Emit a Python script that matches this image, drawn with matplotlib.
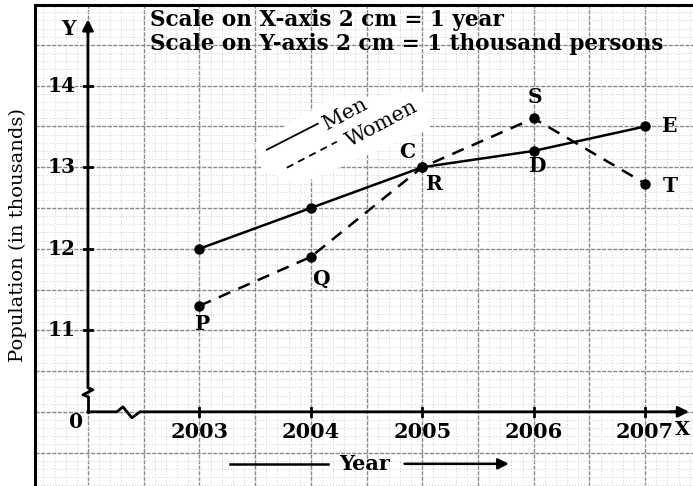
import matplotlib
matplotlib.use("Agg")
import matplotlib.pyplot as plt
import numpy as np
from matplotlib.ticker import MultipleLocator
from matplotlib.patches import Polygon

years = [2003, 2004, 2005, 2006, 2007]
men = [12.0, 12.5, 13.0, 13.2, 13.5]
women = [11.3, 11.9, 13.0, 13.6, 12.8]
men_labels = ["", "", "C", "D", "E"]
women_labels = ["P", "Q", "R", "S", "T"]
y_ticks = [11, 12, 13, 14]
x_title = "Year"
y_title = "Population (in thousands)"
scale_lines = ["Scale on X-axis 2 cm = 1 year",
               "Scale on Y-axis 2 cm = 1 thousand persons"]

FONT = "DejaVu Serif"
W, H = 693, 486
fig = plt.figure(figsize=(W / 100, H / 100), dpi=100)
ax = fig.add_axes([35 / W, 0, 1 - 35 / W, 1 - 5 / H])

x0, y0 = 2002, 10  # origin (broken axis)
ax.set_xlim(2001.525, 2007.43)
ax.set_ylim(9.09, 14.99)

# graph-paper grid
ax.xaxis.set_major_locator(MultipleLocator(0.5))
ax.yaxis.set_major_locator(MultipleLocator(0.5))
ax.xaxis.set_minor_locator(MultipleLocator(0.1))
ax.yaxis.set_minor_locator(MultipleLocator(0.1))
ax.grid(which="major", color="#8a8a8a", lw=1.0, ls=(0, (3, 1)))
ax.grid(which="minor", color="#cfcfcf", lw=0.7, ls=(0, (1, 2)))
ax.tick_params(which="both", length=0, labelleft=False, labelbottom=False)
ax.set_axisbelow(True)
for s in ["right", "bottom"]:
    ax.spines[s].set_visible(False)
for s in ["left", "top"]:
    ax.spines[s].set_linewidth(2.2)

dx = 1 / 111.5  # one pixel in x
dy = 1 / 81.5   # one pixel in y

def px(x, y):
    return (x0 + (x - 88) * dx, y0 + (412 - y) * dy)

# blank area behind the legend
ax.add_patch(Polygon([px(255, 145), px(330, 100), px(425, 92), px(430, 128),
                      px(300, 185), px(262, 170)], closed=True,
                     facecolor="white", edgecolor="none", zorder=1))

# axes with breaks
yax_x = [x0, x0, x0 + 5 * dx, x0 - 5 * dx, x0]
yax_y = [14.7, y0 + 24 * dy, y0 + 22 * dy, y0 + 17 * dy, y0 + 15 * dy]
ax.plot(yax_x, yax_y, color="black", lw=2, solid_capstyle="butt")
ax.plot([x0, x0], [y0 + 15 * dy, y0], color="black", lw=2)
ax.annotate("", xy=(x0, 14.85), xytext=(x0, 14.6),
            arrowprops=dict(arrowstyle="-|>", color="black", lw=2, mutation_scale=16))
xax_x = [x0, x0 + 29 * dx, x0 + 35 * dx, x0 + 44 * dx, x0 + 52 * dx, 2007.3]
xax_y = [y0, y0, y0 + 5 * dy, y0 - 6 * dy, y0, y0]
ax.plot(xax_x, xax_y, color="black", lw=2)
ax.annotate("", xy=(2007.42, y0), xytext=(2007.2, y0),
            arrowprops=dict(arrowstyle="-|>", color="black", lw=2, mutation_scale=16))

# ticks
for yt in y_ticks:
    ax.plot([x0 - 4 * dx, x0 + 4 * dx], [yt, yt], color="black", lw=2)
    ax.text(x0 - 12 * dx, yt, str(yt), ha="right", va="center",
            fontsize=14.5, family=FONT, fontweight="bold")
for xt in years:
    ax.plot([xt, xt], [y0 - 4 * dy, y0 + 4 * dy], color="black", lw=2)
    ax.text(xt, y0 - 20 * dy, str(xt), ha="center", va="center",
            fontsize=15, family=FONT, fontweight="bold")
ax.text(x0 - 12 * dx, y0 - 10 * dy, "0", ha="center", va="center",
        fontsize=14.5, family=FONT, fontweight="bold")
ax.text(x0 - 20 * dx, 14.7, "Y", ha="center", va="center",
        fontsize=14.5, family=FONT, fontweight="bold")
ax.text(*px(691, 430), "X", ha="right", va="center",
        fontsize=14, family=FONT, fontweight="bold")

# data
ax.plot(years, men, color="black", lw=1.8, marker="o", ms=6.5, zorder=3)
ax.plot(years, women, color="black", lw=1.8, ls=(0, (5, 3.5)), marker="o",
        ms=6.5, zorder=3)

offs_m = {"C": (-11, 11), "D": (3, -11), "E": (18, 0)}
offs_w = {"P": (2, -13), "Q": (7, -16), "R": (9, -12), "S": (1, 15), "T": (18, -2)}
for x, y, l in zip(years, men, men_labels):
    if l:
        ax.annotate(l, (x, y), xytext=offs_m[l], textcoords="offset points",
                    ha="center", va="center", fontsize=14.5, family=FONT,
                    fontweight="bold")
for x, y, l in zip(years, women, women_labels):
    ax.annotate(l, (x, y), xytext=offs_w[l], textcoords="offset points",
                ha="center", va="center", fontsize=14.5, family=FONT,
                fontweight="bold")

# legend (rotated)
ax.plot(*zip(px(267, 150), px(318, 124)), color="black", lw=1.3, zorder=2)
ax.plot(*zip(px(287, 168), px(337, 142)), color="black", lw=1.3,
        ls=(0, (4, 3)), zorder=2)
ax.text(*px(345, 114), "Men", rotation=28, ha="center", va="center",
        fontsize=15, family=FONT, rotation_mode="anchor", zorder=2)
ax.text(*px(382, 124), "Women", rotation=28, ha="center", va="center",
        fontsize=15, family=FONT, rotation_mode="anchor", zorder=2)

# scale text
for i, s in enumerate(scale_lines):
    fig.text(150 / W, 1 - (20 + 24 * i) / H, s, ha="left", va="center",
             fontsize=15.5, family=FONT, fontweight="bold")

# axis titles
fig.text(18 / W, 1 - 235 / H, y_title, rotation=90, ha="center", va="center",
         fontsize=14, family=FONT)
ax.text(*px(365, 464), x_title, ha="center", va="center", fontsize=15,
        family=FONT, fontweight="bold")
ax.plot(*zip(px(230, 464), px(328, 464)), color="black", lw=1.8)
ax.annotate("", xy=px(512, 464), xytext=px(402, 464),
            arrowprops=dict(arrowstyle="-|>", color="black", lw=1.8, mutation_scale=16))

fig.savefig("out.png", dpi=100, facecolor="white")
